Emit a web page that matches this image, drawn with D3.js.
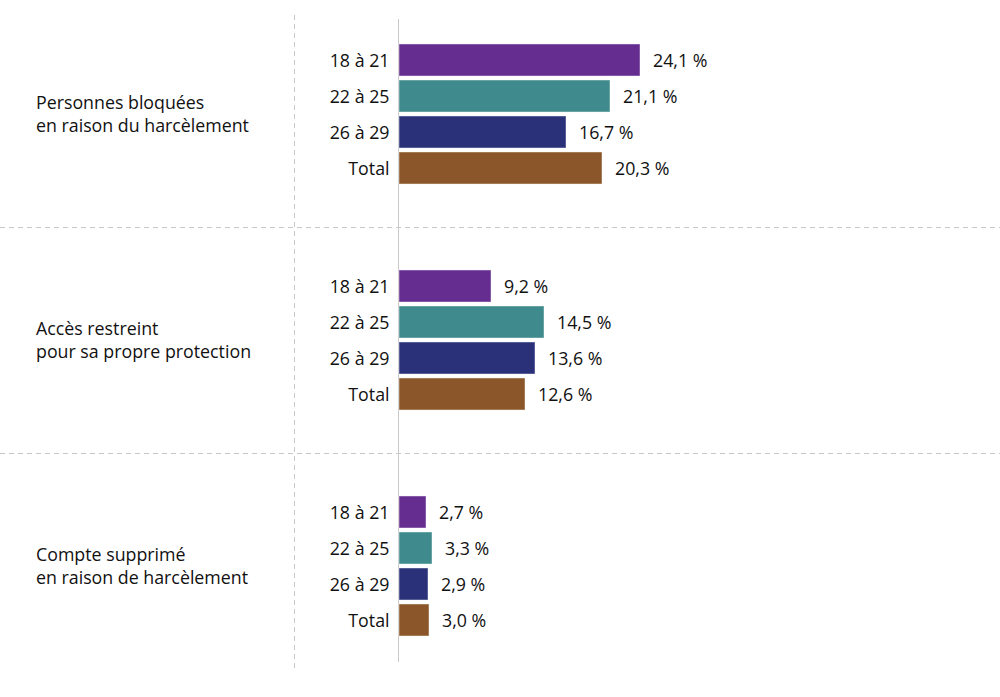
<!DOCTYPE html>
<html>
<head>
<meta charset="utf-8">
<script src="https://cdn.jsdelivr.net/npm/d3@7"></script>
<style>
  body { margin: 0; background: #fff; }
  text { font-family: "Open Sans", sans-serif; fill: #111; }
</style>
</head>
<body>
<div id="chart"></div>
<script>
// donnees
const groupes = [
    ["Personnes bloquées", "en raison du harcèlement"],
    ["Accès restreint", "pour sa propre protection"],
    ["Compte supprimé", "en raison de harcèlement"]
];
const ages = ["18 à 21", "22 à 25", "26 à 29", "Total"];
const valeurs = [
    [24.1, 21.1, 16.7, 20.3],
    [9.2, 14.5, 13.6, 12.6],
    [2.7, 3.3, 2.9, 3.0]
];
const couleurs = ["#662d91", "#3f8a8c", "#2b3179", "#8b572a"];

const width = 1000, height = 697;
const fs = 17.8;

const svg = d3.select("#chart").append("svg")
              .attr("width", width)
              .attr("height", height);

const y0 = d3.scaleBand()
             .domain(d3.range(groupes.length))
             .range([1, 679]);

const y1 = d3.scaleBand()
             .domain(ages)
             .range([-72, 72])
             .paddingInner(0.11)
             .paddingOuter(0.055);

const x = d3.scaleLinear().domain([0, 25]).range([399, 649]);

// lignes pointillees
y0.domain().slice(1).forEach(i => {
    svg.append("line")
       .attr("x1", 0).attr("x2", width)
       .attr("y1", Math.round(y0(i)) + 0.5).attr("y2", Math.round(y0(i)) + 0.5)
       .attr("stroke", "#c8c8c8")
       .attr("stroke-dasharray", "5,4");
});
svg.append("line")
   .attr("x1", 294.5).attr("x2", 294.5)
   .attr("y1", 15).attr("y2", 670)
   .attr("stroke", "#c8c8c8")
   .attr("stroke-dasharray", "5,4");

// axe vertical
svg.append("line")
   .attr("x1", x(0) - 0.5).attr("x2", x(0) - 0.5)
   .attr("y1", 19).attr("y2", 662)
   .attr("stroke", "#c8c8c8");

const g = svg.selectAll(".groupe")
             .data(valeurs)
             .enter().append("g")
             .attr("class", "groupe")
             .attr("transform", (d, i) => `translate(0,${y0(i) + y0.bandwidth() / 2})`);

// titres des groupes
g.append("text")
 .attr("x", 36)
 .attr("font-size", fs)
 .selectAll("tspan")
 .data((d, i) => groupes[i])
 .enter().append("tspan")
 .attr("x", 36)
 .attr("y", (d, j) => j === 0 ? -11 : 12)
 .attr("dy", "0.35em")
 .text(d => d);

const barres = g.selectAll(".barre")
                .data(d => d.map((v, j) => ({ age: ages[j], v: v, c: couleurs[j] })))
                .enter().append("g")
                .attr("class", "barre");

barres.append("rect")
      .attr("x", x(0))
      .attr("y", d => y1(d.age))
      .attr("width", d => x(d.v) - x(0))
      .attr("height", y1.bandwidth())
      .attr("fill", d => d.c)
      .attr("stroke", "#ffffff")
      .attr("stroke-opacity", 0.45)
      .attr("stroke-width", 1);

barres.append("text")
      .attr("x", x(0) - 9.5)
      .attr("y", d => y1(d.age) + y1.bandwidth() / 2)
      .attr("dy", "0.4em")
      .attr("text-anchor", "end")
      .attr("font-size", fs)
      .text(d => d.age);

barres.append("text")
      .attr("x", d => x(d.v) + 13)
      .attr("y", d => y1(d.age) + y1.bandwidth() / 2)
      .attr("dy", "0.4em")
      .attr("font-size", fs)
      .text(d => d.v.toFixed(1).replace(".", ",") + " %");
</script>
</body>
</html>
